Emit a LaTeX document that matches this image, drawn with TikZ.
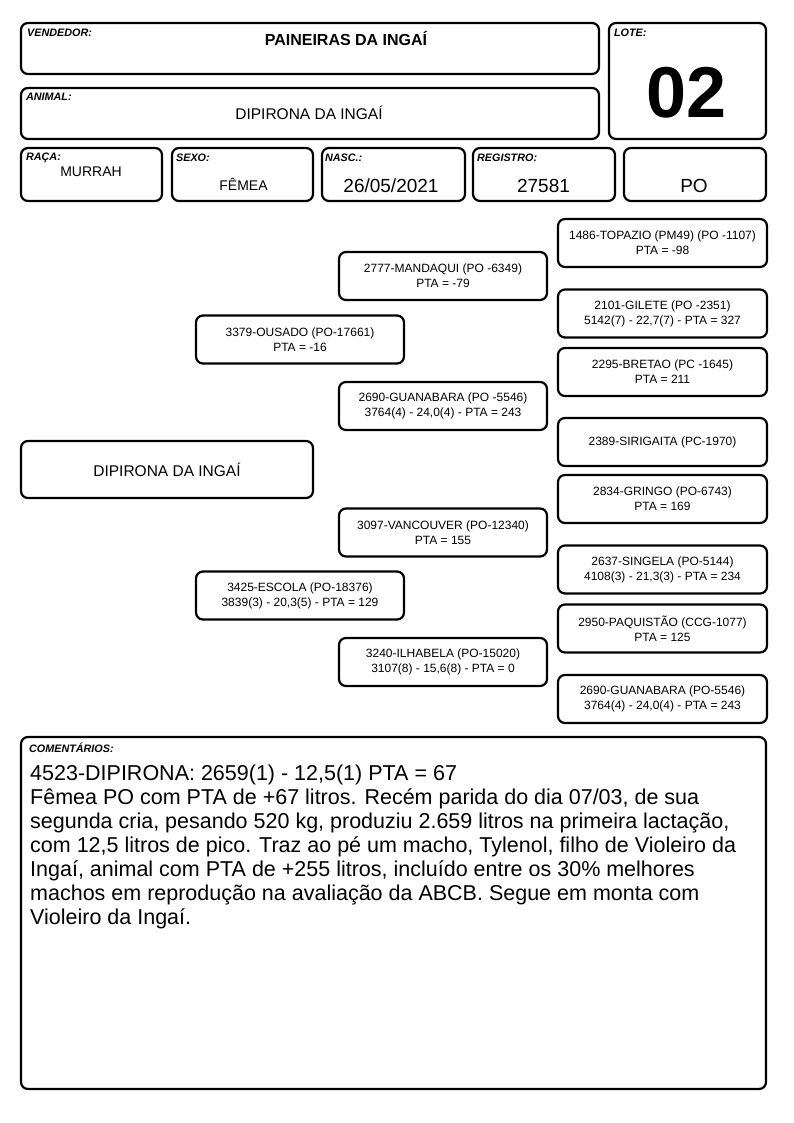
\documentclass[tikz,border=0pt]{standalone}
\usepackage{fontspec}
\setmainfont{Liberation Sans}
\usepackage{tikz}

\begin{document}
\begin{tikzpicture}[
    x = 1pt, y = -1pt,
    box/.style = {rectangle, draw, rounded corners=7pt, line width=2.2pt, align=center, inner sep=0pt},
    field/.style = {box, minimum height=53pt},
    ped/.style = {box, minimum width=208pt, minimum height=48pt, font=\fontsize{12}{15}\selectfont},
    tag/.style = {anchor=north west, inner sep=0pt, font=\bfseries\itshape\fontsize{10.8}{12}\selectfont},
    val/.style = {inner sep=0pt, font=\fontsize{19}{22}\selectfont}
]
    \useasboundingbox (0,0) rectangle (794,1123);

    \node[box, minimum width=578pt, minimum height=51pt] (VEND) at (310,48.5) {};
    \node[box, minimum width=157pt, minimum height=116pt] (LOTE) at (687.5,81) {};
    \node[box, minimum width=578pt, minimum height=51pt] (ANIM) at (310,113.5) {};
    \node[field, minimum width=141pt] (RACA) at (91.5,174.5) {};
    \node[field, minimum width=141pt] (SEXO) at (242.5,174.5) {};
    \node[field, minimum width=143pt] (NASC) at (393.5,174.5) {};
    \node[field, minimum width=142pt] (REG) at (544,174.5) {};
    \node[field, minimum width=142pt] (CLS) at (695,174.5) {};

    \node[tag] (VENDt) at ([shift={(7,7)}]VEND.north west) {VENDEDOR:};
    \node[tag] (LOTEt) at ([shift={(6,7)}]LOTE.north west) {LOTE:};
    \node[tag] (ANIMt) at ([shift={(6,6)}]ANIM.north west) {ANIMAL:};
    \node[tag] (RACAt) at ([shift={(6,6)}]RACA.north west) {RAÇA:};
    \node[tag] (SEXOt) at ([shift={(5,7)}]SEXO.north west) {SEXO:};
    \node[tag] (NASCt) at ([shift={(4,7)}]NASC.north west) {NASC.:};
    \node[tag] (REGt) at ([shift={(5,7)}]REG.north west) {REGISTRO:};

    \node[inner sep=0pt, font=\bfseries\fontsize{16}{18}\selectfont] (VENDv) at (346,38) {PAINEIRAS DA INGAÍ};
    \node[inner sep=0pt, font=\bfseries\fontsize{72}{80}\selectfont] (LOTEv) at (687,93) {02};
    \node[inner sep=0pt, font=\fontsize{15.5}{18}\selectfont] (ANIMv) at (309,113) {DIPIRONA DA INGAÍ};
    \node[val, font=\fontsize{14}{17}\selectfont] (RACAv) at (91,172) {MURRAH};
    \node[val, font=\fontsize{14}{17}\selectfont] (SEXOv) at (243.5,184) {FÊMEA};
    \node[val] (NASCv) at (391,186) {26/05/2021};
    \node[val] (REGv) at (543.5,186) {27581};
    \node[val] (CLSv) at (694,186) {PO};

    \node[box, minimum width=292pt, minimum height=57pt, font=\fontsize{15.5}{18}\selectfont] (DIP) at (167,469.5) {DIPIRONA DA INGAÍ};

    \node[ped] (OUS) at (300,339.5) {3379-OUSADO (PO-17661)\\PTA = -16};
    \node[ped] (ESC) at (300,595.5) {3425-ESCOLA (PO-18376)\\3839(3) - 20,3(5) - PTA = 129};

    \node[ped] (MAN) at (443,276) {2777-MANDAQUI (PO -6349)\\PTA = -79};
    \node[ped] (GUA) at (443,406) {2690-GUANABARA (PO -5546)\\3764(4) - 24,0(4) - PTA = 243};
    \node[ped] (VAN) at (443,532.5) {3097-VANCOUVER (PO-12340)\\PTA = 155};
    \node[ped] (ILH) at (443,662) {3240-ILHABELA (PO-15020)\\3107(8) - 15,6(8) - PTA = 0};

    \node[ped, minimum width=209pt] (TOP) at (662.5,243) {1486-TOPAZIO (PM49) (PO -1107)\\PTA = -98};
    \node[ped, minimum width=209pt] (GIL) at (662.5,313.5) {2101-GILETE (PO -2351)\\5142(7) - 22,7(7) - PTA = 327};
    \node[ped, minimum width=209pt] (BRE) at (662.5,372) {2295-BRETAO (PC -1645)\\PTA = 211};
    \node[ped, minimum width=209pt] (SIR) at (662.5,442) {2389-SIRIGAITA (PC-1970)};
    \node[ped, minimum width=209pt] (GRI) at (662.5,499) {2834-GRINGO (PO-6743)\\PTA = 169};
    \node[ped, minimum width=209pt] (SIN) at (662.5,569.5) {2637-SINGELA (PO-5144)\\4108(3) - 21,3(3) - PTA = 234};
    \node[ped, minimum width=209pt] (PAQ) at (662.5,628.5) {2950-PAQUISTÃO (CCG-1077)\\PTA = 125};
    \node[ped, minimum width=209pt] (GUA2) at (662.5,699) {2690-GUANABARA (PO-5546)\\3764(4) - 24,0(4) - PTA = 243};

    \node[box, minimum width=745pt, minimum height=352pt] (COM) at (393.5,913) {};
    \node[tag] (COMt) at ([shift={(9,7)}]COM.north west) {COMENTÁRIOS:};
    \node[anchor=north west, inner sep=0pt, align=left, font=\fontsize{21.5}{24}\selectfont] (COMv) at (30,765) {4523-DIPIRONA: 2659(1) - 12,5(1) PTA = 67\\
Fêmea PO com PTA de +67 litros. Recém parida do dia 07/03, de sua\\
segunda cria, pesando 520 kg, produziu 2.659 litros na primeira lactação,\\
com 12,5 litros de pico. Traz ao pé um macho, Tylenol, filho de Violeiro da\\
Ingaí, animal com PTA de +255 litros, incluído entre os 30\% melhores\\
machos em reprodução na avaliação da ABCB. Segue em monta com\\
Violeiro da Ingaí.};
\end{tikzpicture}
\end{document}
